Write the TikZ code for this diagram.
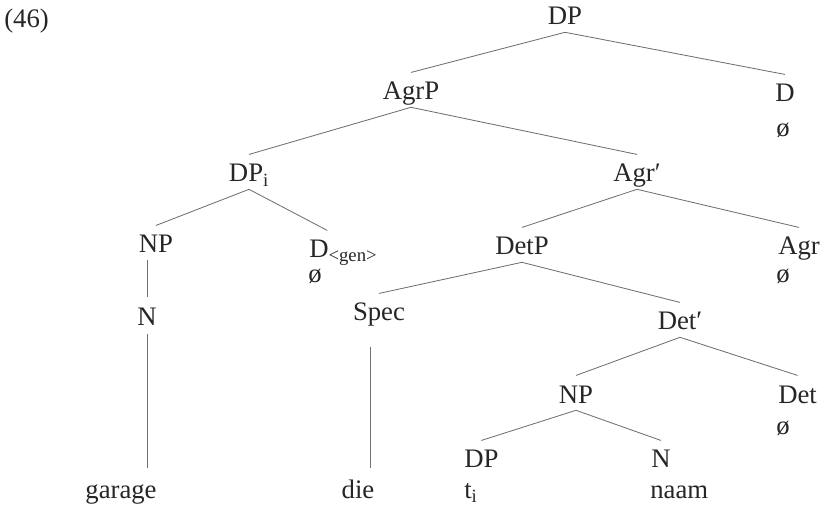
\documentclass[tikz,border=0pt]{standalone}
\usepackage{fontspec}
\setmainfont{Liberation Serif}
\definecolor{inkgray}{HTML}{262626}
\definecolor{linegray}{HTML}{707070}
\tikzset{
  cat/.style={inner sep=0pt, text height=12.4pt, text depth=0pt, anchor=base,
    text=inkgray, font=\fontsize{19}{23}\selectfont},
  leaf/.style={cat, anchor=base west},
  branch/.style={draw=linegray, line width=0.6pt},
}
\begin{document}
\begin{tikzpicture}[x=0.025cm, y=-0.025cm]
    \useasboundingbox (0,0) rectangle (824,505);
    \node[leaf] (ex) at (4,28) {(46)};
    % upper part
    \node[cat] (DP) at (565,25) {DP};
    \node[cat] (AgrP) at (411,100) {AgrP};
    \node[cat] (D) at (785,102) {D};
    \node[leaf] (nullD) at (776,137) {ø};
    \node[cat] (DPi) at (249,182) {DP\textsubscript{i}};
    \node[cat] (Agrbar) at (637,182) {Agr′};
    % possessor
    \node[cat] (NPa) at (156,253) {NP};
    \node[leaf] (Dgen) at (309,258) {D\textsubscript{<gen>}};
    \node[leaf] (nullDgen) at (308,283) {ø};
    \node[cat] (Na) at (147,325) {N};
    \node[cat] (garage) at (121,498) {garage};
    % agreement
    \node[cat] (DetP) at (522,255) {DetP};
    \node[leaf] (Agr) at (778,255) {Agr};
    \node[leaf] (nullAgr) at (776,283) {ø};
    \node[cat] (Spec) at (379,321) {Spec};
    \node[cat] (die) at (358,498) {die};
    \node[cat] (Detbar) at (680,330) {Det′};
    \node[cat] (NPb) at (576,403) {NP};
    \node[leaf] (Det) at (778,403) {Det};
    \node[leaf] (nullDet) at (776,435) {ø};
    % lowest level
    \node[leaf] (DPt) at (464,468) {DP};
    \node[leaf] (trace) at (464,498) {t\textsubscript{i}};
    \node[leaf] (Nb) at (651,468) {N};
    \node[leaf] (naam) at (650,498) {naam};
    % branches
    \foreach \p/\c in {DP/AgrP, DP/D, AgrP/DPi, AgrP/Agrbar, DPi/NPa, Agrbar/DetP,
        Agrbar/Agr, DetP/Spec, DetP/Detbar, Detbar/NPb, Detbar/Det, NPb/DPt, NPb/Nb}
      \draw[branch] ([yshift=-5pt]\p.south) -- ([yshift=7pt]\c.north);
    \draw[branch] ([yshift=-5pt]DPi.south) -- ([xshift=13pt,yshift=7pt]Dgen.north west);
    % unary branches
    \draw[branch] ([yshift=-5pt]NPa.south -| Na) -- ([yshift=7pt]Na.north);
    \draw[branch] ([yshift=-6pt]Na.south) -- ([yshift=9pt]Na |- garage.north);
    \draw[branch] ([xshift=-6pt,yshift=-18pt]Spec.south) -- ([xshift=-6pt,yshift=9pt]Spec |- die.north);
\end{tikzpicture}
\end{document}
